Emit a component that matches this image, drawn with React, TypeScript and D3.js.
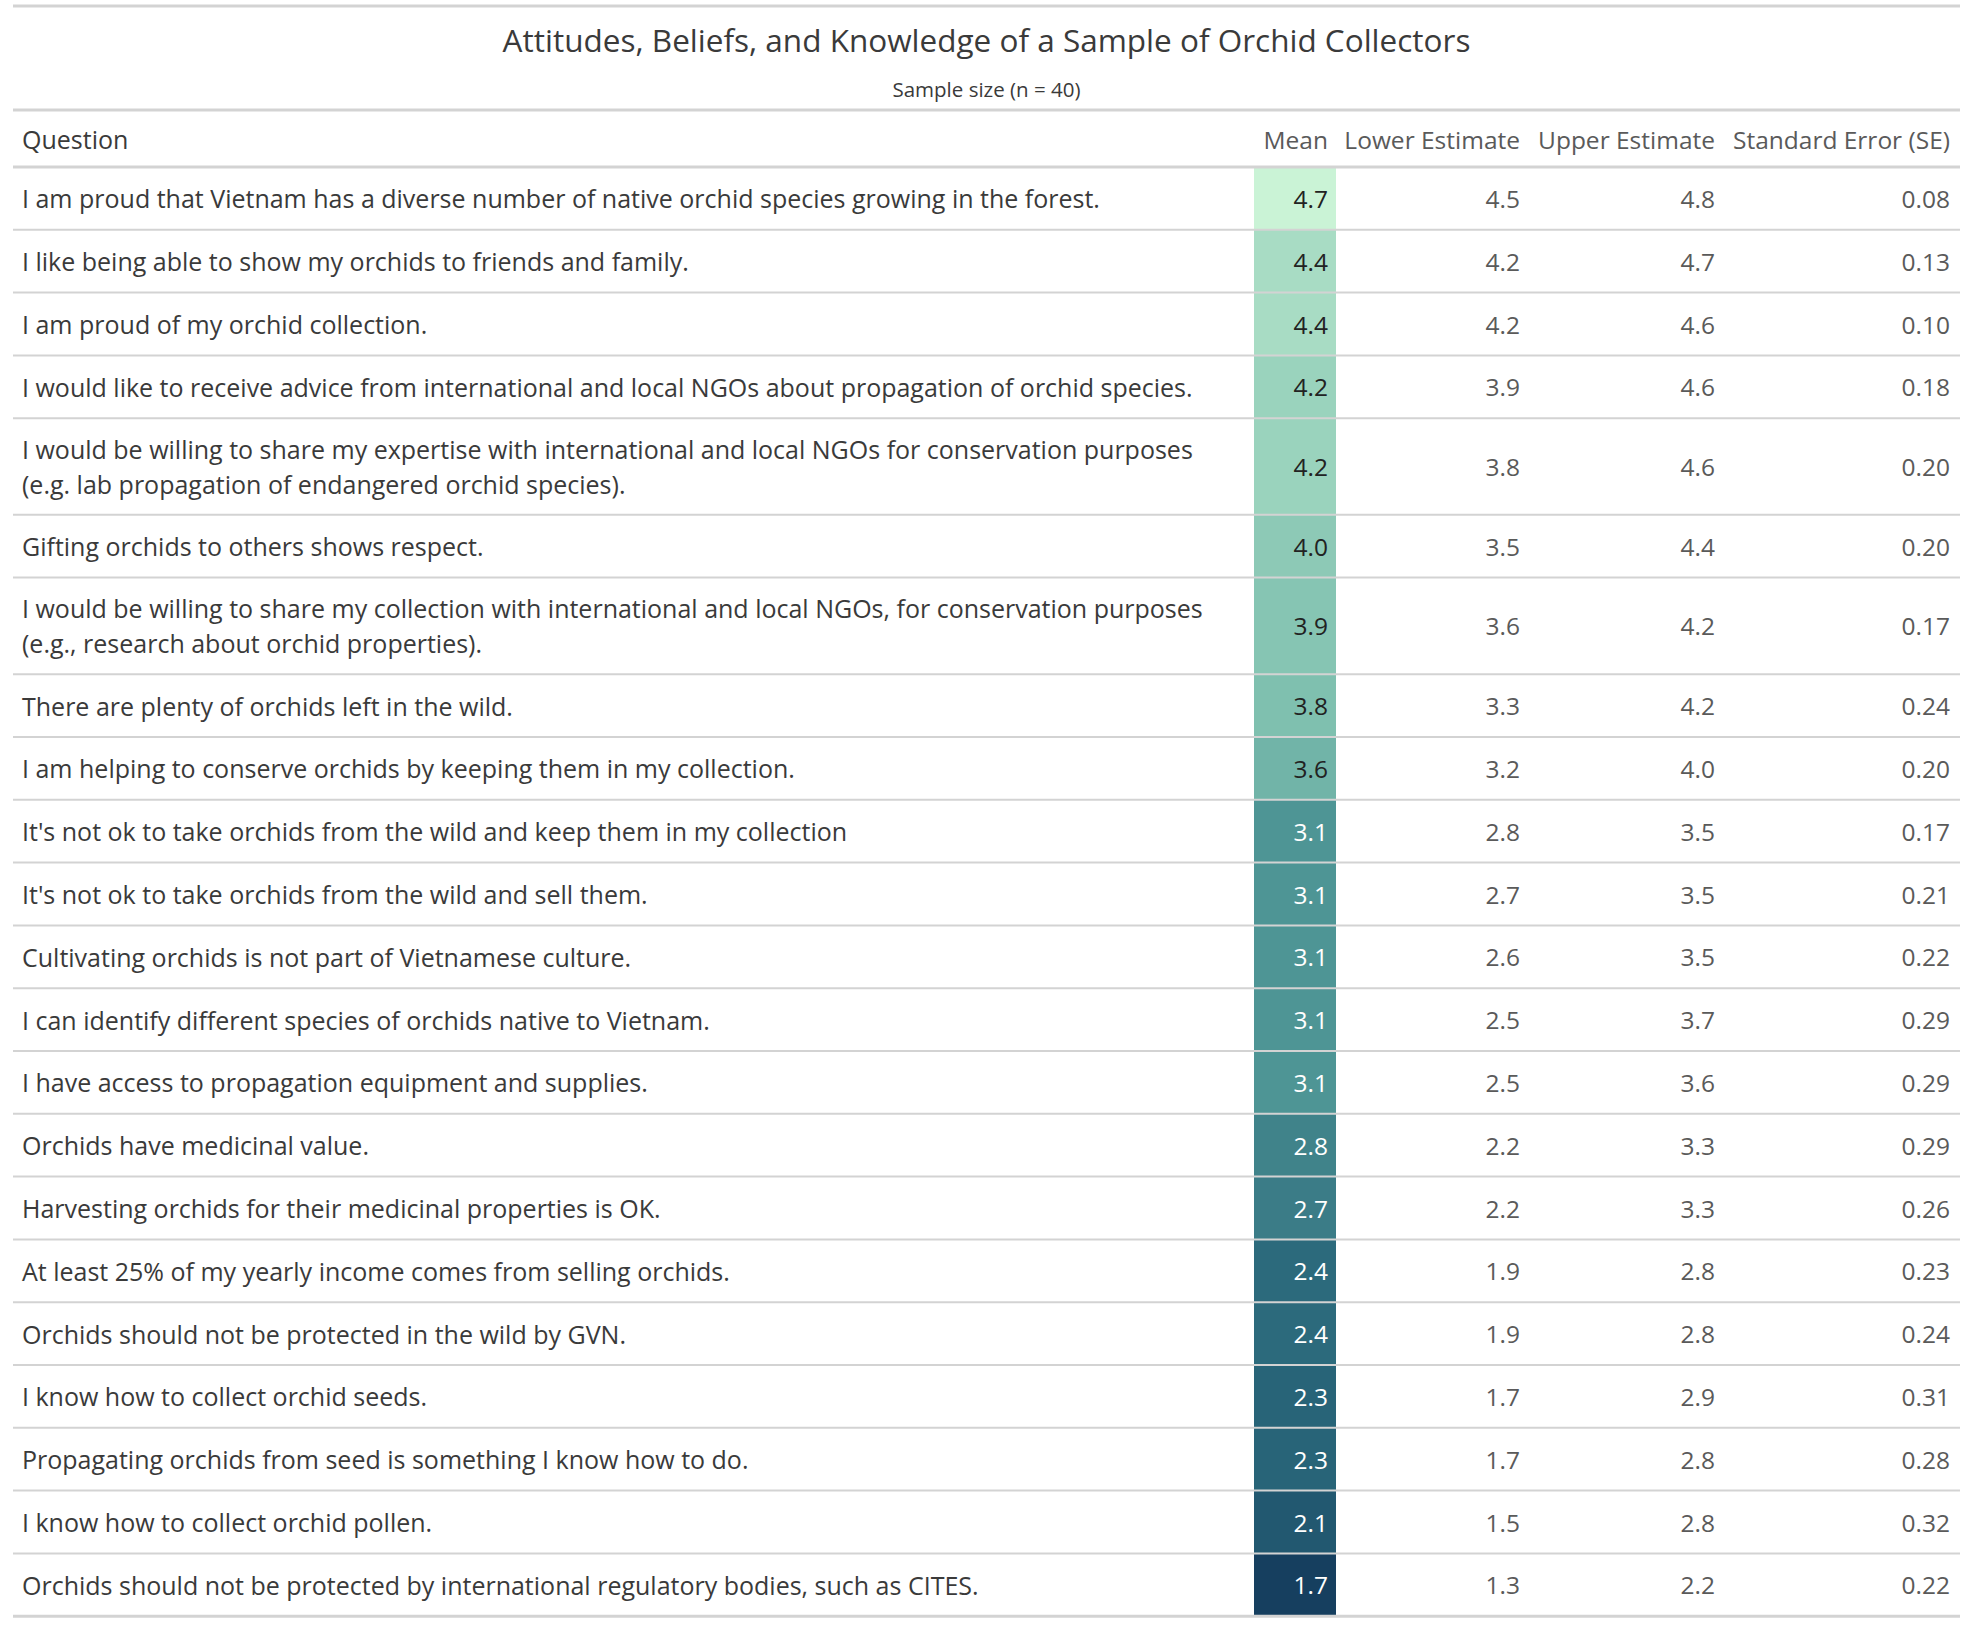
import React from "react";
import * as d3 from "d3";

const title = "Attitudes, Beliefs, and Knowledge of a Sample of Orchid Collectors";
const subtitle = "Sample size (n = 40)";
const headers = ["Question", "Mean", "Lower Estimate", "Upper Estimate", "Standard Error (SE)"];

const questions: string[][] = [
  ["I am proud that Vietnam has a diverse number of native orchid species growing in the forest."],
  ["I like being able to show my orchids to friends and family."],
  ["I am proud of my orchid collection."],
  ["I would like to receive advice from international and local NGOs about propagation of orchid species."],
  ["I would be willing to share my expertise with international and local NGOs for conservation purposes", "(e.g. lab propagation of endangered orchid species)."],
  ["Gifting orchids to others shows respect."],
  ["I would be willing to share my collection with international and local NGOs, for conservation purposes", "(e.g., research about orchid properties)."],
  ["There are plenty of orchids left in the wild."],
  ["I am helping to conserve orchids by keeping them in my collection."],
  ["It's not ok to take orchids from the wild and keep them in my collection"],
  ["It's not ok to take orchids from the wild and sell them."],
  ["Cultivating orchids is not part of Vietnamese culture."],
  ["I can identify different species of orchids native to Vietnam."],
  ["I have access to propagation equipment and supplies."],
  ["Orchids have medicinal value."],
  ["Harvesting orchids for their medicinal properties is OK."],
  ["At least 25% of my yearly income comes from selling orchids."],
  ["Orchids should not be protected in the wild by GVN."],
  ["I know how to collect orchid seeds."],
  ["Propagating orchids from seed is something I know how to do."],
  ["I know how to collect orchid pollen."],
  ["Orchids should not be protected by international regulatory bodies, such as CITES."],
];
const means = [4.7, 4.4, 4.4, 4.2, 4.2, 4.0, 3.9, 3.8, 3.6, 3.1, 3.1, 3.1, 3.1, 3.1, 2.8, 2.7, 2.4, 2.4, 2.3, 2.3, 2.1, 1.7];
const lowers = [4.5, 4.2, 4.2, 3.9, 3.8, 3.5, 3.6, 3.3, 3.2, 2.8, 2.7, 2.6, 2.5, 2.5, 2.2, 2.2, 1.9, 1.9, 1.7, 1.7, 1.5, 1.3];
const uppers = [4.8, 4.7, 4.6, 4.6, 4.6, 4.4, 4.2, 4.2, 4.0, 3.5, 3.5, 3.5, 3.7, 3.6, 3.3, 3.3, 2.8, 2.8, 2.9, 2.8, 2.8, 2.2];
const ses = [0.08, 0.13, 0.10, 0.18, 0.20, 0.20, 0.17, 0.24, 0.20, 0.17, 0.21, 0.22, 0.29, 0.29, 0.29, 0.26, 0.23, 0.24, 0.31, 0.28, 0.32, 0.22];

const colorStops = ["#163f5f", "#2a677a", "#4e9595", "#7fc0af", "#a8dcc4", "#caf3d6"];
const colorDomain = [1.7, 2.35, 3.1, 3.8, 4.4, 4.7];

const W = 1985;
const H = 1627;
const FONT = "'Open Sans', 'Noto Sans', sans-serif";

export default function App() {
  const color = d3.scaleLinear<string>().domain(colorDomain).range(colorStops).interpolate(d3.interpolateRgb).clamp(true);

  const left = 13;
  const right = 1960;
  const meanX0 = 1254;
  const meanX1 = 1336;
  const lowerRight = 1520;
  const upperRight = 1715;
  const seRight = 1950;
  const headerLineY = 167;
  const singleH = 62.8;
  const doubleH = 96.6;
  const lineGap = 35;

  const heights = questions.map((q) => (q.length > 1 ? doubleH : singleH));
  const tops: number[] = [];
  let acc = headerLineY;
  heights.forEach((h) => {
    tops.push(acc);
    acc += h;
  });
  const bottomY = acc;

  const fmt1 = d3.format(".1f");
  const fmt2 = d3.format(".2f");

  const textColor = "#3a3a3a";
  const numColor = "#5a5a5a";
  const lineColor = "#d3d3d3";

  return (
    <svg width={W} height={H} style={{ position: "absolute", left: 0, top: 0, background: "#fff" }} fontFamily={FONT}>
      <rect x={0} y={0} width={W} height={H} fill="#fff" />
      {/* title block */}
      <line x1={left} x2={right} y1={6} y2={6} stroke={lineColor} strokeWidth={3} />
      <text x={(left + right) / 2} y={39} textAnchor="middle" dominantBaseline="central" fontSize={31.5} fill={textColor}>
        {title}
      </text>
      <text x={(left + right) / 2} y={89} textAnchor="middle" dominantBaseline="central" fontSize={20.5} fill={textColor}>
        {subtitle}
      </text>
      <line x1={left} x2={right} y1={110} y2={110} stroke={lineColor} strokeWidth={3} />

      {/* header */}
      <g fontSize={24.5} fill={numColor}>
        <text x={22} y={139} dominantBaseline="central" fontSize={25} fill={textColor}>{headers[0]}</text>
        <text x={meanX1 - 8} y={139} dominantBaseline="central" textAnchor="end">{headers[1]}</text>
        <text x={lowerRight} y={139} dominantBaseline="central" textAnchor="end">{headers[2]}</text>
        <text x={upperRight} y={139} dominantBaseline="central" textAnchor="end">{headers[3]}</text>
        <text x={seRight} y={139} dominantBaseline="central" textAnchor="end">{headers[4]}</text>
      </g>

      {/* mean cells */}
      {means.map((m, i) => (
        <rect key={"c" + i} x={meanX0} y={tops[i]} width={meanX1 - meanX0} height={heights[i]} fill={color(m)} />
      ))}

      {/* row lines */}
      {tops.slice(1).map((t, i) => (
        <line key={"l" + i} x1={left} x2={right} y1={t} y2={t} stroke={lineColor} strokeWidth={2} />
      ))}
      <line x1={left} x2={right} y1={headerLineY} y2={headerLineY} stroke={lineColor} strokeWidth={3} />
      <line x1={left} x2={right} y1={bottomY} y2={bottomY} stroke={lineColor} strokeWidth={3} />

      {/* rows */}
      {questions.map((q, i) => {
        const cy = tops[i] + heights[i] / 2;
        const m = means[i];
        return (
          <g key={"r" + i} fontSize={24.5}>
            {q.map((line, k) => (
              <text key={k} x={22} y={cy + (k - (q.length - 1) / 2) * lineGap} dominantBaseline="central" fontSize={25} fill={textColor}>
                {line}
              </text>
            ))}
            <text x={meanX1 - 8} y={cy} dominantBaseline="central" textAnchor="end" fill={m <= 3.3 ? "#ffffff" : "#222222"}>
              {fmt1(m)}
            </text>
            <text x={lowerRight} y={cy} dominantBaseline="central" textAnchor="end" fill={numColor}>{fmt1(lowers[i])}</text>
            <text x={upperRight} y={cy} dominantBaseline="central" textAnchor="end" fill={numColor}>{fmt1(uppers[i])}</text>
            <text x={seRight} y={cy} dominantBaseline="central" textAnchor="end" fill={numColor}>{fmt2(ses[i])}</text>
          </g>
        );
      })}
    </svg>
  );
}
